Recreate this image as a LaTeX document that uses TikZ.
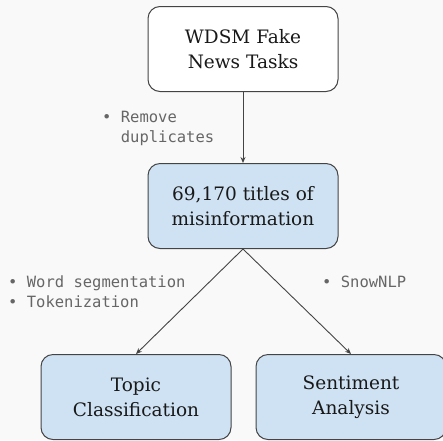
\documentclass[tikz,border=0pt]{standalone}
\usepackage{fontspec}
\setmainfont{DejaVu Serif}
\newfontfamily\monofont{DejaVu Sans Mono}
\usetikzlibrary{arrows.meta}
\definecolor{boxfill}{HTML}{CFE2F3}
\definecolor{edge}{HTML}{444444}
\definecolor{lbl}{HTML}{666666}
\definecolor{bg}{HTML}{F9F9F9}
\begin{document}
\begin{tikzpicture}[x=1pt,y=1pt,
 box/.style={draw=edge, line width=1pt, rounded corners=12pt, minimum width=190pt, minimum height=85pt, align=center, font=\fontsize{18.5}{25}\selectfont, text=black!90, inner sep=0pt},
 note/.style={text=lbl, font=\monofont\fontsize{15.5}{20}\selectfont, align=left, anchor=base west, inner sep=0pt},
 conn/.style={draw=edge, line width=0.9pt, -{Stealth[length=6pt,width=5pt]}}]
\fill[bg] (0,0) rectangle (443,-440);
\useasboundingbox (0,0) rectangle (443,-440);
\node[box, fill=white] (a) at (243,-49) {WDSM Fake\\News Tasks};
\node[box, fill=boxfill] (b) at (243,-206) {69,170 titles of\\misinformation};
\node[box, fill=boxfill] (c) at (136,-397) {Topic\\Classification};
\node[box, fill=boxfill] (d) at (351,-397) {Sentiment\\Analysis};
\draw[conn] (a.south) -- (b.north);
\draw[conn] (b.south) -- (c.north);
\draw[conn] (b.south) -- (d.north);
\node[note] (n1) at (102,-142) {•\ Remove\\\phantom{•}\ duplicates};
\node[note] (n2) at (8,-307) {•\ Word segmentation\\•\ Tokenization};
\node[note] (n3) at (322,-287) {•\ SnowNLP};
\end{tikzpicture}
\end{document}
